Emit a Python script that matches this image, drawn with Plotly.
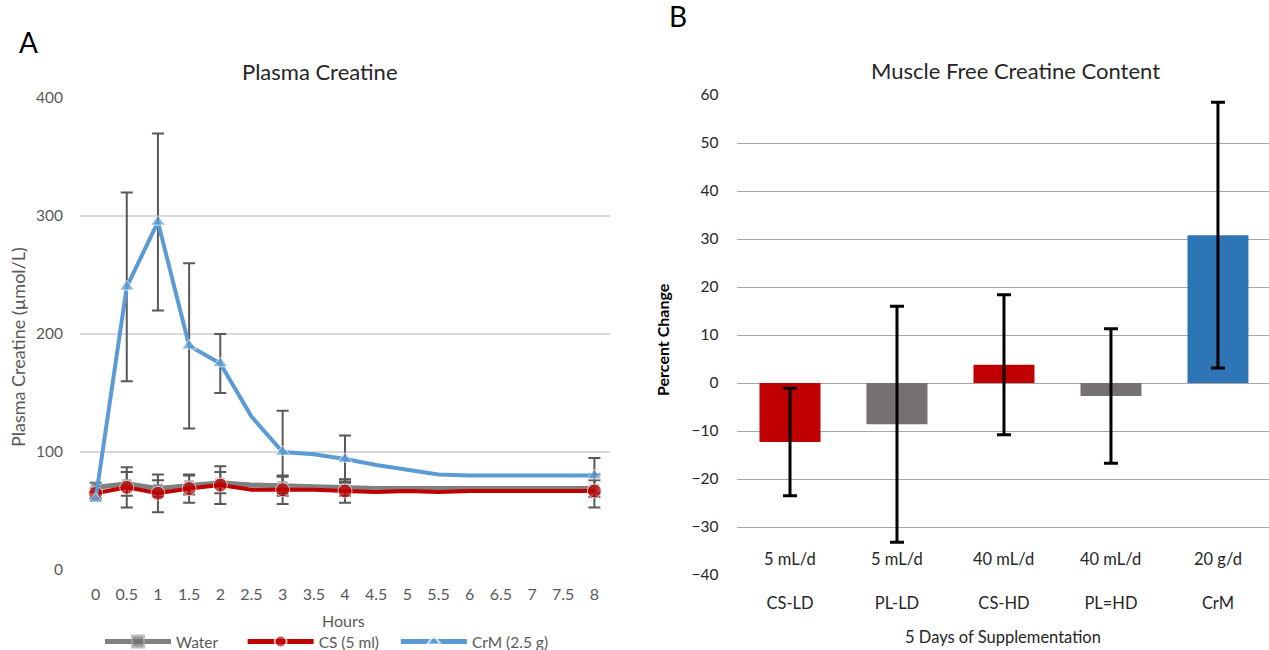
import plotly.graph_objects as go

# ---------- Panel A data ----------
hours = [0, 0.5, 1, 1.5, 2, 2.5, 3, 3.5, 4, 4.5, 5, 5.5, 6, 6.5, 7, 7.5, 8]
water = [70, 73, 69, 72, 74, 72, 71, 70, 69, 69, 69, 69, 69, 69, 69, 69, 69]
cs = [65, 70, 65, 69, 72, 68, 68, 68, 67, 66, 67, 66, 67, 67, 67, 67, 67]
crm = [60, 240, 295, 190, 175, 130, 100, 98, 94, 89, 85, 81, 80, 80, 80, 80, 80]

marked_hours = [0, 0.5, 1, 1.5, 2, 3, 4, 8]
water_marked = [70, 73, 69, 72, 74, 71, 69, 69]
cs_marked = [65, 70, 65, 69, 72, 68, 67, 67]
crm_marked = [60, 240, 295, 190, 175, 100, 94, 80]
water_err = [4, 10, 7, 8, 9, 8, 6, 7]
cs_err = [4, 17, 16, 12, 16, 12, 10, 14]
crm_err = [0, 80, 75, 70, 25, 35, 20, 15]

hour_ticks = [0, 0.5, 1, 1.5, 2, 2.5, 3, 3.5, 4, 4.5, 5, 5.5, 6, 6.5, 7, 7.5, 8]
hour_labels = ["0", "0.5", "1", "1.5", "2", "2.5", "3", "3.5", "4", "4.5",
               "5", "5.5", "6", "6.5", "7", "7.5", "8"]
plasma_ticks = [0, 100, 200, 300, 400]

# ---------- Panel B data ----------
groups = ["CS-LD", "PL-LD", "CS-HD", "PL=HD", "CrM"]
doses = ["5 mL/d", "5 mL/d", "40 mL/d", "40 mL/d", "20 g/d"]
pct_change = [-12.3, -8.6, 3.8, -2.7, 30.8]
pct_err = [11.2, 24.6, 14.6, 14.0, 27.7]
bar_colors = ["#C00000", "#767171", "#C00000", "#767171", "#2E75B6"]
pct_ticks = [-40, -30, -20, -10, 0, 10, 20, 30, 40, 50, 60]

FONT = "Lato"
W, H = 1269, 650
NB = "\u00a0"

fig = go.Figure()

marked_set = set(marked_hours)

def sizes(sz):
    return [sz if h in marked_set else 0 for h in hours]

# error bar traces (drawn underneath)
for yv, ev in [(water_marked, water_err), (cs_marked, cs_err), (crm_marked, crm_err)]:
    fig.add_trace(go.Scatter(
        x=marked_hours, y=yv, mode="markers", marker=dict(opacity=0, size=2),
        error_y=dict(type="data", array=ev, visible=True, color="#595959",
                     thickness=2, width=6),
        showlegend=False, hoverinfo="skip", xaxis="x", yaxis="y"))

fig.add_trace(go.Scatter(
    x=hours, y=water, name="Water" + NB * 5, mode="lines+markers",
    line=dict(color="#808080", width=5),
    marker=dict(symbol="square", size=sizes(9), color="#6F6F6F",
                line=dict(color="#A6A6A6", width=1)),
    xaxis="x", yaxis="y"))
fig.add_trace(go.Scatter(
    x=hours, y=cs, name="CS (5 ml)" + NB * 3, mode="lines+markers",
    line=dict(color="#C00000", width=4),
    marker=dict(symbol="circle", size=sizes(14), color="#C00000"),
    xaxis="x", yaxis="y"))
fig.add_trace(go.Scatter(
    x=hours, y=crm, name="CrM (2.5 g)", mode="lines+markers",
    line=dict(color="#5B9BD5", width=4),
    marker=dict(symbol="triangle-up", size=sizes(13), color="#5B9BD5"),
    xaxis="x", yaxis="y"))

fig.add_trace(go.Bar(
    x=groups, y=pct_change, marker=dict(color=bar_colors, line=dict(width=0)),
    width=0.57,
    error_y=dict(type="data", array=pct_err, visible=True, color="#000000",
                 thickness=3, width=7),
    showlegend=False, xaxis="x2", yaxis="y2"))

annotations = []
for g, d in zip(groups, doses):
    annotations.append(dict(x=g, y=-36.6, xref="x2", yref="y2", text=d,
                            xanchor="center", yanchor="middle",
                            showarrow=False, font=dict(family=FONT, size=16.5, color="#262626")))

def px(xp):
    return xp / W

def py(yp):
    return 1 - yp / H

def txt(x, y, text, size, color, angle=0):
    return dict(x=px(x), y=py(y), xref="paper", yref="paper", text=text,
                xanchor="center", yanchor="middle", textangle=angle,
                showarrow=False, font=dict(family=FONT, size=size, color=color))

annotations += [
    txt(29, 42, "A", 28, "#000000"),
    txt(678, 16, "B", 28, "#000000"),
    txt(320, 72, "Plasma Creatine", 22, "#262626"),
    txt(1015, 70, "Muscle Free Creatine Content", 22, "#262626"),
    txt(18, 347, "Plasma Creatine (µmol/L)", 18, "#595959", -90),
    txt(662, 340, "<b>Percent Change</b>", 16, "#000000", -90),
    txt(343, 620, "Hours", 16, "#595959"),
    txt(1003, 637, "5 Days of Supplementation", 16.5, "#262626"),
]

fig.update_layout(
    width=W, height=H,
    margin=dict(l=0, r=0, t=0, b=0, autoexpand=False),
    paper_bgcolor="white", plot_bgcolor="white",
    font=dict(family=FONT, size=14, color="#595959"),
    annotations=annotations,
    showlegend=True,
    legend=dict(orientation="h", x=px(100), xanchor="left", y=py(642), yanchor="middle",
                font=dict(family=FONT, size=15.5, color="#595959"),
                itemsizing="constant", itemwidth=66, bgcolor="rgba(0,0,0,0)"),
    xaxis=dict(domain=[px(80), px(610)], range=[-0.25, 8.25], tickvals=hour_ticks,
               ticktext=hour_labels, showgrid=False, zeroline=False, showline=False,
               ticks="", ticklabelstandoff=13, tickfont=dict(size=16, color="#595959"),
               anchor="y", automargin=False),
    yaxis=dict(domain=[py(570), py(98)], range=[0, 400], tickvals=plasma_ticks,
               showgrid=True, gridcolor="#D9D9D9", gridwidth=2, zeroline=False,
               showline=False, ticks="", ticklabelstandoff=16,
               tickfont=dict(size=15.5, color="#595959"), anchor="x", automargin=False),
    xaxis2=dict(domain=[px(736.5), 1.0], range=[-0.5, 4.477], showgrid=False,
                zeroline=False, showline=False, ticks="", ticklabelstandoff=16,
                tickfont=dict(size=16.5, color="#262626"), anchor="y2", automargin=False),
    yaxis2=dict(domain=[py(575), py(95)], range=[-40, 60], tickvals=pct_ticks,
                showgrid=True, gridcolor="#A6A6A6", gridwidth=1, zeroline=True,
                zerolinecolor="#A6A6A6", zerolinewidth=1, showline=False, ticks="",
                ticklabelstandoff=17, tickfont=dict(size=15.5, color="#262626"),
                anchor="x2", automargin=False),
)

fig.write_html("out.html")
